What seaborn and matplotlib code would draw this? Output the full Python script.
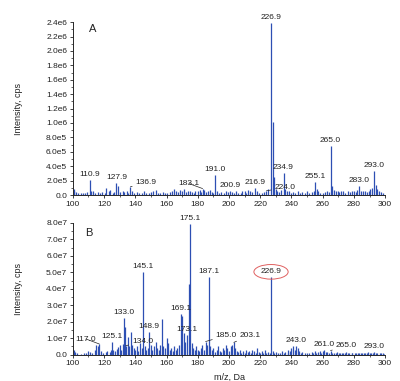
import numpy as np
import pandas as pd
import seaborn as sns
import matplotlib
matplotlib.use("Agg")
import matplotlib.pyplot as plt
from matplotlib.ticker import MultipleLocator, FuncFormatter

# ---------------- data ----------------
# Panel A: m/z and intensity (x1e5 cps)
mz_a = [100.5, 101, 102, 103.5, 105, 106.5, 108, 109, 110.9, 111.9, 113, 114.5, 116, 117.5, 119, 120.5,
        121.5, 123, 124, 125.5, 126.5, 127.9, 129, 130.5, 132, 133, 134.5, 135.5, 136.9, 138, 139.5, 141,
        142.5, 144, 145.5, 147, 148.5, 150, 151.5, 153, 154.5, 156, 157.5, 159, 160.5, 162, 163.5, 165,
        166.2, 167.5, 168.5, 170, 171.2, 172.5, 173.5, 175, 176.2, 177.5, 178.5, 180, 181.2, 182.2, 183.1,
        184.2, 185.5, 186.5, 188, 189.2, 190, 191.0, 192, 193.5, 195, 196.5, 198, 199.2, 200.9, 202, 203.5,
        204.5, 206, 207.5, 208.5, 210, 211.2, 212.2, 213.5, 215, 216.9, 218, 219.5, 221, 222.5, 224.0,
        225.2, 226.9, 227.9, 228.9, 230, 231, 232.2, 233.2, 234.9, 236, 237, 238.2, 239.5, 241, 242.5,
        244, 245.5, 247, 248.5, 250, 251.5, 253, 254.2, 255.1, 256.1, 257.2, 258.5, 260, 261.5, 263,
        264.2, 265.0, 266.0, 267.0, 268.2, 269.5, 270.5, 272, 273.2, 274.5, 276, 277.5, 279, 280.2, 281.5,
        282.2, 283.0, 284.2, 285.5, 287, 288.2, 289.5, 290.5, 291.5, 293.0, 294.0, 295.0, 296.2, 297.5, 298.5]
int_a = [0.9, 0.6, 0.4, 0.3, 0.25, 0.35, 0.3, 0.45, 2.1, 0.6, 0.5, 0.35, 0.45, 0.3, 0.4, 0.35,
         1.0, 0.5, 0.7, 0.3, 0.4, 1.7, 1.2, 0.4, 0.6, 0.45, 0.5, 0.3, 1.15, 0.5, 0.3, 0.4,
         0.35, 0.3, 0.5, 0.3, 0.25, 0.4, 0.6, 0.7, 0.35, 0.3, 0.45, 0.3, 0.35, 0.45, 0.5, 0.9,
         0.6, 0.4, 0.7, 0.5, 0.8, 0.4, 0.6, 0.5, 0.4, 0.35, 0.6, 0.5, 0.7, 0.45, 0.9,
         0.7, 0.4, 0.5, 0.7, 0.4, 0.3, 2.8, 0.5, 0.35, 0.4, 0.3, 0.5, 0.4, 0.6, 0.4, 0.3,
         0.5, 0.35, 0.3, 0.5, 0.6, 0.35, 0.7, 0.5, 0.4, 1.0, 0.5, 0.3, 0.35, 0.4, 0.6,
         0.8, 23.9, 10.2, 2.5, 0.8, 0.6, 0.4, 0.7, 3.1, 0.9, 0.5, 0.6, 0.35, 0.4, 0.3,
         0.5, 0.35, 0.4, 0.3, 0.5, 0.35, 0.4, 0.6, 1.85, 0.9, 0.6, 0.3, 0.35, 0.4, 0.5,
         0.4, 6.8, 1.2, 0.7, 0.5, 0.6, 0.4, 0.5, 0.6, 0.35, 0.5, 0.4, 0.5, 0.6, 0.4,
         0.7, 1.2, 0.5, 0.6, 0.5, 0.4, 0.5, 0.8, 1.0, 3.3, 1.4, 0.8, 0.6, 0.4, 0.3]

# Panel B: m/z and intensity (x1e7 cps)
mz_b = [100.5, 101.5, 103, 105, 107, 108.5, 110, 111, 112.5, 114, 115, 116, 117.0, 118, 119.5, 121,
        122, 123.5, 124.5, 125.1, 126, 127, 128, 129, 130, 131, 132, 133.0, 133.6, 134.0, 135.2, 136,
        137.2, 138, 139, 140, 141, 142, 143, 144, 145.1, 146, 147, 148, 148.9, 150, 151, 152, 153, 154,
        155, 156, 157, 158, 159, 160, 161, 162, 163, 164, 165, 166, 167, 168, 169.1, 170, 171, 172,
        173.1, 174.4, 175.1, 176, 177, 178, 179, 180, 181, 182, 183, 184, 185.0, 186, 187.1, 188, 189,
        190, 191, 192, 193, 194, 195, 196, 197, 198, 199, 200, 201, 202, 203.1, 204, 205, 206, 207, 208,
        209, 210, 211, 212, 213, 214, 215, 216, 217, 218, 219, 220, 221, 222, 223, 224, 225, 226, 226.9,
        228, 229, 230, 231.5, 232.5, 234, 235, 236, 237.5, 238, 239, 240, 241, 242, 243.0, 244, 245, 246,
        247, 248.5, 250, 251.5, 253, 254, 255, 256, 257, 258, 259, 260, 261.0, 262, 263, 264, 265.0, 266,
        267, 268.5, 269, 270.5, 271, 272.5, 273, 274.5, 275, 276.5, 277, 278.5, 279, 280.5, 281, 282.5,
        283, 284.5, 285, 286.5, 287, 288.5, 289, 290.5, 291, 292, 293.0, 294, 295, 296.5, 297, 298.5, 299.5]
int_b = [0.3, 0.15, 0.1, 0.06, 0.08, 0.1, 0.25, 0.15, 0.1, 0.3, 0.6, 0.5, 0.65, 0.2, 0.1, 0.15,
         0.25, 0.15, 0.3, 0.8, 0.3, 0.2, 0.35, 0.45, 0.6, 0.3, 0.65, 2.2, 1.7, 0.55, 1.1, 0.5,
         1.4, 0.6, 0.4, 0.3, 0.5, 0.2, 0.7, 0.4, 5.0, 0.5, 0.3, 0.4, 1.4, 0.6, 0.3, 0.5, 0.8, 0.4,
         0.3, 0.6, 2.15, 0.5, 0.4, 1.0, 0.7, 0.3, 0.4, 0.2, 0.5, 0.3, 0.4, 0.6, 2.5, 2.35, 1.3, 0.8,
         1.2, 4.3, 7.95, 0.7, 0.4, 0.3, 0.5, 0.3, 0.2, 0.4, 0.6, 0.3, 0.8, 0.6, 4.7, 0.5, 0.3,
         0.4, 0.15, 0.3, 0.5, 0.2, 0.15, 0.4, 0.3, 0.6, 0.4, 0.2, 0.5, 0.6, 0.75, 0.4, 0.2, 0.15, 0.3, 0.1,
         0.2, 0.12, 0.3, 0.15, 0.2, 0.1, 0.3, 0.2, 0.12, 0.4, 0.15, 0.1, 0.2, 0.12, 0.3, 0.1, 0.15, 0.12, 4.7,
         0.2, 0.1, 0.15, 0.1, 0.12, 0.2, 0.1, 0.15, 0.12, 0.3, 0.2, 0.4, 0.5, 0.3, 0.55, 0.4, 0.2, 0.12,
         0.15, 0.1, 0.1, 0.12, 0.15, 0.1, 0.2, 0.12, 0.15, 0.25, 0.12, 0.2, 0.3, 0.15, 0.15, 0.1, 0.25, 0.12,
         0.1, 0.12, 0.15, 0.1, 0.12, 0.1, 0.12, 0.1, 0.15, 0.1, 0.12, 0.1, 0.12, 0.1, 0.12, 0.1,
         0.1, 0.1, 0.12, 0.1, 0.1, 0.12, 0.15, 0.1, 0.1, 0.12, 0.15, 0.1, 0.12, 0.1, 0.1, 0.08, 0.06]

label_mz_a = [110.9, 127.9, 136.9, 183.1, 191.0, 200.9, 216.9, 224.0, 226.9, 234.9, 255.1, 265.0, 283.0, 293.0]
label_txt_a = ["110.9", "127.9", "136.9", "183.1", "191.0", "200.9", "216.9", "224.0", "226.9", "234.9",
               "255.1", "265.0", "283.0", "293.0"]
label_mz_b = [117.0, 125.1, 133.0, 134.0, 145.1, 148.9, 169.1, 173.1, 175.1, 187.1, 185.0, 203.1, 226.9,
              243.0, 261.0, 265.0, 293.0]
label_txt_b = ["117.0", "125.1", "133.0", "134.0", "145.1", "148.9", "169.1", "173.1", "175.1", "187.1",
               "185.0", "203.1", "226.9", "243.0", "261.0", "265.0", "293.0"]

x_ticks = [100, 120, 140, 160, 180, 200, 220, 240, 260, 280, 300]

df_a = pd.DataFrame({"mz": mz_a, "intensity": np.array(int_a) * 1e5})
df_b = pd.DataFrame({"mz": mz_b, "intensity": np.array(int_b) * 1e7})

# ---------------- style ----------------
sns.set_theme(style="ticks")
plt.rcParams["font.family"] = ["Liberation Sans", "DejaVu Sans"]
plt.rcParams["axes.linewidth"] = 0.7

BAR = "#2d4fb3"
TXT = "#222222"

# leader-line labels: (dx px, dy px, ha)
leader_a = {"136.9": (5, 4, "left"), "183.1": (-3, 5, "right"), "224.0": (8, 3, "left")}
leader_b = {"117.0": (-3, 5, "right"), "134.0": (6, 4, "left"), "185.0": (10, 6, "left"),
            "203.1": (6, 7, "left"), "265.0": (5, 5, "left")}

def sci_fmt(v, pos):
    if abs(v) < 1e-9:
        return "0.0"
    m, e = f"{v:.1e}".split("e")
    return f"{m}e{int(e)}"

fig = plt.figure(figsize=(4.0, 3.81), dpi=100)
ax_a = fig.add_axes([0.182, 0.488, 0.781, 0.454])
ax_b = fig.add_axes([0.182, 0.069, 0.781, 0.3457])

def draw(ax, df, lab_mz, lab_txt, leaders, ymax, ymajor, letter, letter_xy, ellipse_label=None):
    ax.vlines(df["mz"], 0, df["intensity"], color=BAR, lw=0.9)
    ax.set_xlim(100, 300)
    ax.set_ylim(0, ymax)
    sns.despine(ax=ax)
    ax.set_xticks(x_ticks)
    ax.xaxis.set_minor_locator(MultipleLocator(10))
    ax.yaxis.set_major_locator(MultipleLocator(ymajor))
    ax.yaxis.set_minor_locator(MultipleLocator(ymajor / 2))
    ax.yaxis.set_major_formatter(FuncFormatter(sci_fmt))
    ax.tick_params(axis="both", which="major", labelsize=6, length=2.5, width=0.6, pad=1.5, colors=TXT)
    ax.tick_params(axis="both", which="minor", length=1.5, width=0.5, colors=TXT)
    ax.set_ylabel("Intensity, cps", fontsize=6.5, color=TXT)
    ax.yaxis.set_label_coords(-0.16, 0.5)
    ax.text(letter_xy[0], letter_xy[1], letter, transform=ax.transAxes, fontsize=8, color=TXT,
            ha="center", va="center")
    for mzv, txt in zip(lab_mz, lab_txt):
        idx = int(np.argmin(np.abs(df["mz"].values - mzv)))
        h = df["intensity"].values[idx]
        if txt in leaders:
            dx, dy, ha = leaders[txt]
            ax.annotate(txt, xy=(mzv, h), xytext=(dx, dy), textcoords="offset pixels",
                        ha=ha, va="center", fontsize=6, color=TXT,
                        arrowprops=dict(arrowstyle="-", lw=0.5, color=TXT, shrinkA=0, shrinkB=0))
        else:
            kw = {}
            if ellipse_label == txt:
                kw["bbox"] = dict(boxstyle="ellipse,pad=0.2", fc="none", ec="#e06060", lw=0.7)
            ax.annotate(txt, xy=(mzv, h), xytext=(0, 2), textcoords="offset pixels",
                        ha="center", va="bottom", fontsize=6, color=TXT, **kw)

draw(ax_a, df_a, label_mz_a, label_txt_a, leader_a, 2.4e6, 2e5, "A", (0.065, 0.96))
draw(ax_b, df_b, label_mz_b, label_txt_b, leader_b, 8e7, 1e7, "B", (0.05, 0.924), ellipse_label="226.9")

ax_b.set_xlabel("m/z, Da", fontsize=6.5, color=TXT)
ax_b.xaxis.set_label_coords(0.5, -0.14)

fig.savefig("out.png", dpi=100)
